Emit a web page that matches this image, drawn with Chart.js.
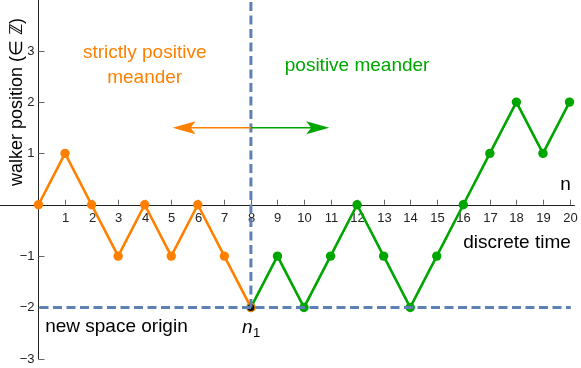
<!DOCTYPE html>
<html>
<head>
<meta charset="utf-8">
<script src="https://cdn.jsdelivr.net/npm/chart.js@4.4.1/dist/chart.umd.min.js"></script>
<style>
  html, body { margin: 0; padding: 0; background: #fff; }
  #wrap { width: 581px; height: 368px; position: relative; }
</style>
</head>
<body>
<div id="wrap"><canvas id="c"></canvas></div>
<script>
// ---- data ----
const strictTimes = [0, 1, 2, 3, 4, 5, 6, 7, 8];
const strictPositions = [0, 1, 0, -1, 0, -1, 0, -1, -2];
const meanderTimes = [8, 9, 10, 11, 12, 13, 14, 15, 16, 17, 18, 19, 20];
const meanderPositions = [-2, -1, -2, -1, 0, -1, -2, -1, 0, 1, 2, 1, 2];
const xTickValues = [1, 2, 3, 4, 5, 6, 7, 8, 9, 10, 11, 12, 13, 14, 15, 16, 17, 18, 19, 20];
const yTickValues = [-3, -2, -1, 1, 2, 3];
const newOriginTime = 8;
const newOriginLevel = -2;

const ORANGE = '#FF8000';
const GREEN = '#00A600';
const BLUE = '#5E81B5';
const FONT = '"Liberation Sans", Arial, sans-serif';

function fmt(v) { return v < 0 ? '\u2212' + Math.abs(v) : String(v); }

const axesPlugin = {
  id: 'axes',
  beforeDatasetsDraw(chart) {
    const ctx = chart.ctx, xs = chart.scales.x, ys = chart.scales.y;
    const x0 = xs.getPixelForValue(0), y0 = ys.getPixelForValue(0);
    ctx.save();
    ctx.strokeStyle = '#222';
    ctx.lineWidth = 1;
    // x axis
    ctx.beginPath();
    ctx.moveTo(0, Math.round(y0) + 0.5);
    ctx.lineTo(xs.getPixelForValue(20.2), Math.round(y0) + 0.5);
    ctx.stroke();
    // y axis
    ctx.beginPath();
    ctx.moveTo(Math.round(x0) + 0.5, 0);
    ctx.lineTo(Math.round(x0) + 0.5, ys.getPixelForValue(-3) + 0.5);
    ctx.stroke();
    // ticks
    ctx.strokeStyle = '#666';
    ctx.fillStyle = '#222';
    ctx.font = '13px ' + FONT;
    ctx.textAlign = 'center';
    ctx.textBaseline = 'top';
    xTickValues.forEach(v => {
      const px = Math.round(xs.getPixelForValue(v)) + 0.5;
      ctx.beginPath();
      ctx.moveTo(px, y0);
      ctx.lineTo(px, y0 - 5);
      ctx.stroke();
      ctx.fillText(fmt(v), px, y0 + 7);
    });
    ctx.textAlign = 'right';
    ctx.textBaseline = 'middle';
    yTickValues.forEach(v => {
      const py = Math.round(ys.getPixelForValue(v)) + 0.5;
      ctx.beginPath();
      ctx.moveTo(x0, py);
      ctx.lineTo(x0 + 6, py);
      ctx.stroke();
      ctx.fillText(fmt(v), x0 - 4, py);
    });
    // y title
    ctx.save();
    ctx.translate(17, ys.getPixelForValue(2.0));
    ctx.rotate(-Math.PI / 2);
    ctx.textAlign = 'center';
    ctx.textBaseline = 'middle';
    ctx.font = '18px ' + FONT;
    ctx.fillStyle = '#000';
    ctx.fillText('walker position (\u2208 \u2124)', 0, 0);
    ctx.restore();
    ctx.restore();
  },
  afterDatasetsDraw(chart) {
    const ctx = chart.ctx, xs = chart.scales.x, ys = chart.scales.y;
    const px8 = xs.getPixelForValue(newOriginTime), pym2 = ys.getPixelForValue(newOriginLevel);
    ctx.save();
    // dark dot at the new origin
    ctx.fillStyle = '#111';
    ctx.beginPath();
    ctx.arc(px8, pym2, 3.5, 0, Math.PI * 2);
    ctx.fill();
    // dashed lines
    ctx.strokeStyle = BLUE;
    ctx.lineWidth = 3;
    ctx.setLineDash([9, 4.5]);
    ctx.beginPath();
    ctx.moveTo(px8, 2);
    ctx.lineTo(px8, pym2);
    ctx.stroke();
    ctx.beginPath();
    ctx.moveTo(xs.getPixelForValue(0) + 1, pym2);
    ctx.lineTo(xs.getPixelForValue(20.05), pym2);
    ctx.stroke();
    ctx.setLineDash([]);

    // arrow
    const ay = ys.getPixelForValue(1.5);
    const aL = xs.getPixelForValue(5.05), aR = xs.getPixelForValue(10.95);
    ctx.lineWidth = 1.5;
    ctx.strokeStyle = ORANGE;
    ctx.beginPath(); ctx.moveTo(aL + 10, ay); ctx.lineTo(px8, ay); ctx.stroke();
    ctx.strokeStyle = GREEN;
    ctx.beginPath(); ctx.moveTo(px8, ay); ctx.lineTo(aR - 10, ay); ctx.stroke();
    ctx.fillStyle = ORANGE;
    ctx.beginPath();
    ctx.moveTo(aL, ay); ctx.lineTo(aL + 23, ay - 6.5); ctx.lineTo(aL + 18, ay); ctx.lineTo(aL + 23, ay + 6.5); ctx.closePath();
    ctx.fill();
    ctx.fillStyle = GREEN;
    ctx.beginPath();
    ctx.moveTo(aR, ay); ctx.lineTo(aR - 23, ay - 6.5); ctx.lineTo(aR - 18, ay); ctx.lineTo(aR - 23, ay + 6.5); ctx.closePath();
    ctx.fill();

    // annotations
    const txt = (s, x, y, color, align, font) => {
      ctx.fillStyle = color;
      ctx.font = font;
      ctx.textAlign = align;
      ctx.textBaseline = 'middle';
      ctx.fillText(s, xs.getPixelForValue(x), ys.getPixelForValue(y));
    };
    const f19 = '19px ' + FONT;
    txt('strictly positive', 4.0, 2.97, ORANGE, 'center', f19);
    txt('meander', 4.0, 2.47, ORANGE, 'center', f19);
    txt('positive meander', 12.0, 2.70, GREEN, 'center', f19);
    txt('n', 20.05, 0.38, '#000', 'right', f19);
    txt('discrete time', 20.05, -0.74, '#000', 'right', f19);
    txt('new space origin', 0.25, -2.38, '#000', 'left', f19);
    // n_1
    const nx = xs.getPixelForValue(8), ny = ys.getPixelForValue(-2.4);
    ctx.fillStyle = '#000';
    ctx.textAlign = 'left';
    ctx.textBaseline = 'middle';
    ctx.font = 'italic 19px ' + FONT;
    ctx.fillText('n', nx - 9, ny);
    ctx.font = '13px ' + FONT;
    ctx.fillText('1', nx + 2, ny + 5);
    ctx.restore();
  }
};

const toPoints = (xs, ys) => xs.map((x, i) => ({ x: x, y: ys[i] }));

new Chart(document.getElementById('c'), {
  type: 'line',
  data: {
    datasets: [
      {
        data: toPoints(meanderTimes, meanderPositions),
        borderColor: GREEN, backgroundColor: GREEN,
        borderWidth: 2.6, pointRadius: 4.7, pointBorderWidth: 0,
        tension: 0, order: 2
      },
      {
        data: toPoints(strictTimes, strictPositions),
        borderColor: ORANGE, backgroundColor: ORANGE,
        borderWidth: 2.6, pointRadius: 4.7, pointBorderWidth: 0,
        tension: 0, order: 1
      }
    ]
  },
  options: {
    responsive: true,
    maintainAspectRatio: false,
    animation: false,
    layout: { padding: 0, autoPadding: false },
    plugins: { legend: { display: false }, tooltip: { enabled: false } },
    scales: {
      x: { type: 'linear', min: -1.45, max: 20.433, display: false },
      y: { type: 'linear', min: -3.179, max: 3.988, display: false }
    },
    clip: false
  },
  plugins: [axesPlugin]
});
</script>
</body>
</html>
